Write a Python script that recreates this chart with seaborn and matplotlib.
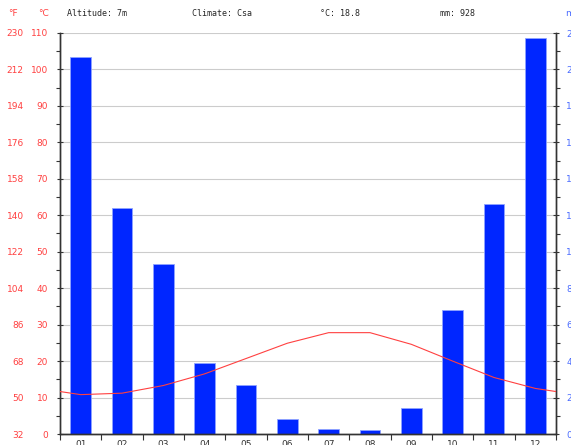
import numpy as np
import pandas as pd
import matplotlib
matplotlib.use("Agg")
import matplotlib.pyplot as plt
from matplotlib.ticker import MultipleLocator, FixedLocator, NullFormatter
import seaborn as sns

months = ["01", "02", "03", "04", "05", "06", "07", "08", "09", "10", "11", "12"]
precip_mm = [207, 124, 93, 39, 27, 8, 3, 2, 14, 68, 126, 217]
temp_c = [10.8, 11.2, 13.3, 16.5, 20.7, 24.9, 27.8, 27.8, 24.6, 20.0, 15.5, 12.5]
header = ["Altitude: 7m", "Climate: Csa", "°C: 18.8", "mm: 928"]

RED = "#ff4040"
BLUE = "#4a6cff"
BAR = "#0026ff"

sns.set_style("white")
plt.rcParams["font.family"] = ["DejaVu Sans"]

fig = plt.figure(figsize=(5.71, 4.45), dpi=100)
ax2 = fig.add_axes([60 / 571, 11 / 445, 496 / 571, 401 / 445])
ax = ax2.twinx()

df = pd.DataFrame({"month": months, "mm": precip_mm})
sns.barplot(data=df, x="month", y="mm", ax=ax2, color=BAR, saturation=1,
            width=0.5, edgecolor="#8fa3ff", linewidth=0.6, zorder=2)
ax2.set_ylim(0, 220)
ax2.set_xlim(-0.5, 11.5)
ax2.yaxis.set_major_locator(MultipleLocator(20))
ax2.yaxis.set_minor_locator(MultipleLocator(10))
ax2.grid(axis="y", color="#cccccc", linewidth=0.8, zorder=0)
ax2.set_axisbelow(True)
ax2.yaxis.tick_right()
ax2.yaxis.set_label_position("right")
ax2.tick_params(axis="y", which="major", right=True, left=False, direction="inout",
                length=5, width=0.8, color="#333333", labelcolor=BLUE,
                labelsize=6.5, pad=5)
ax2.tick_params(axis="y", which="minor", right=True, left=False, direction="out",
                length=3, width=0.8, color="#333333")
ax2.set_xlabel("")
ax2.set_ylabel("")

# x axis: ticks at month boundaries, labels under bar centres
ax2.xaxis.set_major_locator(FixedLocator(np.arange(-0.5, 12, 1)))
ax2.xaxis.set_major_formatter(NullFormatter())
ax2.set_xticks(np.arange(12), months, minor=True)
ax2.tick_params(axis="x", which="major", bottom=True, direction="out", length=4,
                width=0.8, color="#333333")
ax2.tick_params(axis="x", which="minor", bottom=True, length=0, labelsize=6.5,
                labelcolor="#333333", pad=4)

# temperature on the top axis, wrapped at the ends so it reaches the plot edges
tx = [-1] + list(range(12)) + [12]
ty = [temp_c[-1]] + temp_c + [temp_c[0]]
ax.set_zorder(ax2.get_zorder() + 1)
ax.patch.set_visible(False)
sns.lineplot(x=tx, y=ty, ax=ax, color=RED, linewidth=0.8, zorder=5)
ax.set_ylim(0, 110)
ax.set_xlim(-0.5, 11.5)
ax.yaxis.tick_left()
ax.yaxis.set_major_locator(MultipleLocator(10))
ax.yaxis.set_minor_locator(MultipleLocator(5))
ax.tick_params(axis="y", which="major", left=True, right=False, direction="inout",
               length=5, width=0.8, color="#333333", labelcolor=RED,
               labelsize=6.5, pad=6)
ax.tick_params(axis="y", which="minor", left=True, right=False, direction="out",
               length=3, width=0.8, color="#333333")
ax.set_ylabel("")

for a in (ax, ax2):
    a.spines["top"].set_visible(False)
    for s in ("left", "right", "bottom"):
        a.spines[s].set_color("#333333")
        a.spines[s].set_linewidth(1.0)

# Fahrenheit scale on the far left
sec = ax.secondary_yaxis(-0.073, functions=(lambda c: c * 1.8 + 32, lambda f: (f - 32) / 1.8))
sec.set_yticks(np.arange(32, 231, 18))
sec.spines["left"].set_visible(False)
sec.tick_params(axis="y", length=0, pad=0, labelcolor=RED, labelsize=6.5)

# header line
fy = 1 - 13 / 445
fig.text(8 / 571, fy, "°F", color=RED, fontsize=6.5, va="center")
fig.text(38 / 571, fy, "°C", color=RED, fontsize=6.5, va="center")
for txt, xp in zip(header, [67, 192, 320, 440]):
    fig.text(xp / 571, fy, txt, fontsize=6, family="DejaVu Sans Mono", va="center")
fig.text(565 / 571, fy, "mm", color=BLUE, fontsize=6.5, va="center")

fig.savefig("out.png", dpi=100)
